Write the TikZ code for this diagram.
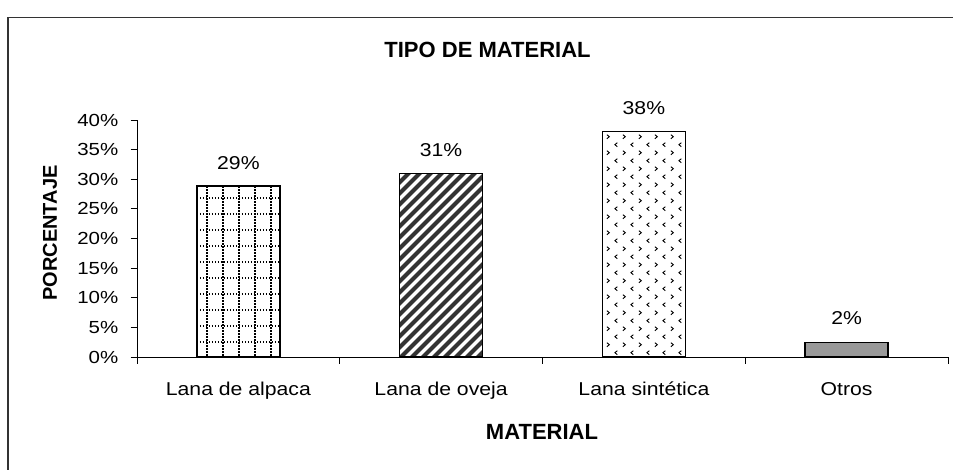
\documentclass[tikz,border=0pt]{standalone}
\usepackage{fontspec}
\setmainfont{Liberation Sans}
\usetikzlibrary{positioning}

\newcommand{\wide}[1]{\scalebox{1.17}[1]{#1}}
\newcommand{\wider}[1]{\scalebox{1.14}[1]{#1}}

\begin{document}
\begin{tikzpicture}[x=1pt,y=-1pt,
  ticklbl/.style={anchor=east,inner sep=0pt,font=\fontsize{17.5}{20}\selectfont},
  catlbl/.style={anchor=base,inner sep=0pt,font=\fontsize{18.6}{22}\selectfont},
  vallbl/.style={inner sep=0pt,font=\fontsize{18.6}{22}\selectfont},
  axistitle/.style={inner sep=0pt,font=\bfseries\fontsize{22}{26}\selectfont},
  barbox/.style={draw=black,line width=1.3pt},
  dotgrid/.style={line width=1.1pt,dash pattern=on 1.5pt off 1.5pt},
  chev/.style={line width=0.9pt}]
\useasboundingbox (0,0) rectangle (953,469);

% Frame
\draw[line width=1.6pt,black!80] (8,480) -- (8,17.5) -- (970,17.5);

% Title
\node[axistitle] (title) at (487.5,49.5) {TIPO DE MATERIAL};

% Value axis
\draw[line width=0.9pt] (137,357) -- (137,120);
\foreach \i in {0,...,8} {
    \pgfmathtruncatemacro\pc{\i*5}
    \draw[line width=0.9pt] (130.5,{357-\i*29.625}) -- (137,{357-\i*29.625});
    \node[ticklbl] (tick\i) at (118.5,{357-\i*29.625}) {\wide{\pc\%}};
}
\node[axistitle,rotate=90,font=\bfseries\fontsize{20}{24}\selectfont] (ytitle) at (50,233) {PORCENTAJE};

% Category axis
\draw[line width=0.9pt] (137,357) -- (948,357);
\foreach \k in {0,...,4}
    \draw[line width=0.9pt] ({137+\k*202.75},357) -- ({137+\k*202.75},363.5);
\node[catlbl] (cat1) at (238.4,395) {\wider{Lana de alpaca}};
\node[catlbl] (cat2) at (441.1,395) {\wider{Lana de oveja}};
\node[catlbl] (cat3) at (643.9,395) {\wider{Lana sintética}};
\node[catlbl] (cat4) at (846.6,395) {\wider{Otros}};
\node[axistitle] (xtitle) at (542,432) {MATERIAL};

% Lana de alpaca
\begin{scope}
\clip (196.9,186) rectangle (279.9,357);
\foreach \j in {0,...,10}
    \draw[dotgrid] (196.9,198+\j*16) -- (279.9,198+\j*16);
\foreach \i in {0,...,4}
    \draw[dotgrid] (207+\i*16,186) -- (207+\i*16,357);
\end{scope}
\draw[barbox,line width=1.5pt] (196.9,186) rectangle (279.9,357);
\node[vallbl] (val1) at (238.4,163) {\wider{29\%}};

% Lana de oveja
\begin{scope}
\clip (399.6,173.3) rectangle (482.6,357);
\foreach \c in {560,571,...,850}
    \draw[line width=4pt,black!80] (\c-400,400) -- (\c-100,100);
\end{scope}
\draw[barbox] (399.6,173.3) rectangle (482.6,357);
\node[vallbl] (val2) at (441.1,150) {\wider{31\%}};

% Lana sintetica
\begin{scope}
\clip (602.4,131.7) rectangle (685.4,357);
\foreach \i in {0,...,5}
  \foreach \j in {0,...,14} {
    \draw[chev] ({608.1+\i*16},{136.7+\j*16}) ++(-1.2,-2) -- ++(2.4,2) -- ++(-2.4,2);
    \draw[chev] ({616.1+\i*16},{144.7+\j*16}) ++(1.2,-2) -- ++(-2.4,2) -- ++(2.4,2);
  }
\end{scope}
\draw[barbox] (602.4,131.7) rectangle (685.4,357);
\node[vallbl] (val3) at (643.9,108) {\wider{38\%}};

% Otros
\draw[barbox,fill=black!40] (805.1,342.3) rectangle (888.1,357);
\node[vallbl] (val4) at (846.6,318.5) {\wider{2\%}};
\end{tikzpicture}
\end{document}
